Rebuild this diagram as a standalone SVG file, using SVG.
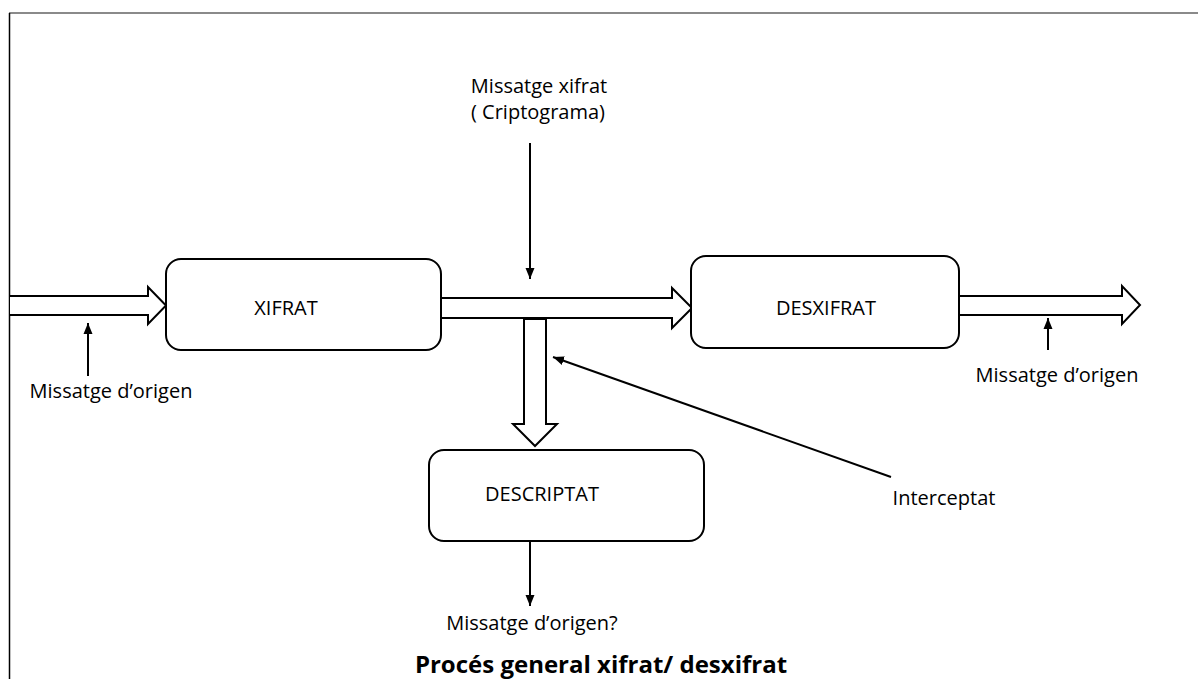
<svg xmlns="http://www.w3.org/2000/svg" width="1198" height="679" viewBox="0 0 1198 679">
<style>
.box{fill:#fff;stroke:#000;stroke-width:2}
.blk{fill:#fff;stroke:#000;stroke-width:2;stroke-linejoin:miter}
.ln{stroke:#000;stroke-width:2;fill:none}
.t{font-family:"Open Sans","Liberation Sans",sans-serif;font-size:20px;fill:#000}
.ttl{font-family:"Open Sans","Liberation Sans",sans-serif;font-size:24px;font-weight:bold;fill:#000}
</style>
<defs>
<marker id="ah" markerUnits="userSpaceOnUse" markerWidth="12" markerHeight="12" viewBox="0 0 12 12" refX="11" refY="6" orient="auto">
<path d="M0,1.5 L11,6 L0,10.5 Z" fill="#000"/>
</marker>
</defs>
<rect width="1198" height="679" fill="#fff"/>
<g id="frame">
<line x1="9" y1="13" x2="1198" y2="13" stroke="#8a8a8a" stroke-width="2"/>
<line x1="9.5" y1="13" x2="9.5" y2="679" stroke="#000" stroke-width="1.5"/>
</g>
<g id="connectors">
<path class="blk" d="M10,296 H148 V287 L166,305.5 L148,324 V315 H10"/>
<path class="blk" d="M441,298 H672 V288 L692,308 L672,328 V318 H441"/>
<path class="blk" d="M959,296 H1122 V286 L1140,305 L1122,324 V315 H959"/>
<path class="blk" d="M524,319 V424 H513 L535,446 L557,424 H546 V319 Z"/>
<line class="ln" x1="88" y1="376" x2="88" y2="323" marker-end="url(#ah)"/>
<line class="ln" x1="1048" y1="350" x2="1048" y2="318" marker-end="url(#ah)"/>
<line class="ln" x1="530" y1="143" x2="530" y2="279" marker-end="url(#ah)"/>
<line class="ln" x1="530" y1="541" x2="530" y2="606" marker-end="url(#ah)"/>
<line class="ln" x1="891" y1="477" x2="553" y2="357" marker-end="url(#ah)"/>
</g>
<g id="xifrat">
<rect class="box" x="166" y="259" width="275" height="91" rx="15"/>
<text class="t" x="286" y="315" text-anchor="middle">XIFRAT</text>
</g>
<g id="desxifrat">
<rect class="box" x="691" y="256" width="268" height="92" rx="15"/>
<text class="t" x="826" y="315" text-anchor="middle">DESXIFRAT</text>
</g>
<g id="descriptat">
<rect class="box" x="429" y="450" width="275" height="91" rx="15"/>
<text class="t" x="542" y="501" text-anchor="middle">DESCRIPTAT</text>
</g>
<g id="labels">
<text class="t" x="539" y="93" text-anchor="middle">Missatge xifrat</text>
<text class="t" x="538" y="119" text-anchor="middle">( Criptograma)</text>
<text class="t" x="111" y="398" text-anchor="middle">Missatge d’origen</text>
<text class="t" x="1057" y="382" text-anchor="middle">Missatge d’origen</text>
<text class="t" x="944" y="505" text-anchor="middle">Interceptat</text>
<text class="t" x="532" y="630" text-anchor="middle">Missatge d’origen?</text>
<text class="ttl" x="601" y="673" text-anchor="middle">Procés general xifrat/ desxifrat</text>
</g>
</svg>
